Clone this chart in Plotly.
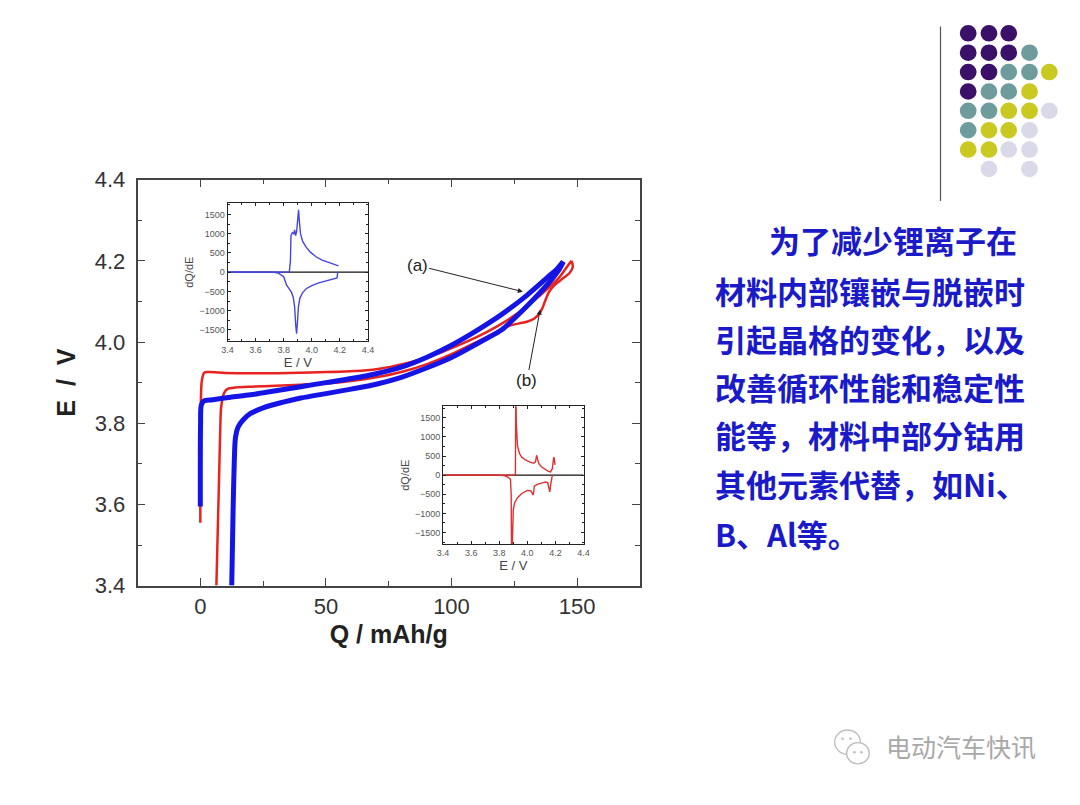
import plotly.graph_objects as go

# ---- main chart data: Q (mAh/g) vs E (V) ----
red_chg_q = [0, 0, 0.2, 0.6, 1.5, 3, 10, 20, 35, 50, 65, 72, 80, 88, 95, 102, 110, 118, 125, 132, 138, 143, 146.5, 147.8]
red_chg_e = [3.555, 3.70, 3.85, 3.905, 3.924, 3.926, 3.924, 3.923, 3.924, 3.926, 3.930, 3.935, 3.945, 3.958, 3.972, 3.99, 4.012, 4.038, 4.065, 4.098, 4.13, 4.16, 4.19, 4.2]

red_dis_q = [147.8, 148.3, 147, 144, 141, 139, 137.5, 136.3, 135, 133, 130, 127, 123, 118, 110, 100, 90, 80, 70, 60, 50, 40, 30, 20, 14, 11, 9.5, 8.3, 8.0, 7.6, 7.2, 6.8, 6.4]
red_dis_e = [4.20, 4.185, 4.17, 4.155, 4.14, 4.125, 4.105, 4.085, 4.07, 4.058, 4.05, 4.046, 4.04, 4.025, 4.0, 3.97, 3.945, 3.926, 3.913, 3.904, 3.898, 3.895, 3.892, 3.89, 3.888, 3.885, 3.875, 3.84, 3.80, 3.70, 3.60, 3.50, 3.40]

blue_chg_q = [0, 0, 0.1, 0.4, 1.5, 5, 12, 20, 30, 40, 50, 60, 70, 80, 90, 100, 110, 120, 130, 138, 142, 144.5]
blue_chg_e = [3.595, 3.70, 3.80, 3.845, 3.855, 3.858, 3.864, 3.870, 3.880, 3.890, 3.900, 3.910, 3.922, 3.938, 3.962, 3.992, 4.028, 4.068, 4.115, 4.158, 4.18, 4.198]

blue_dis_q = [144.5, 143, 140, 135, 130, 125, 120, 115, 110, 100, 90, 80, 70, 60, 50, 40, 33, 25, 20, 17, 15, 14, 13.5, 13.1, 12.8, 12.5]
blue_dis_e = [4.198, 4.18, 4.155, 4.12, 4.088, 4.058, 4.03, 4.012, 3.995, 3.962, 3.936, 3.913, 3.896, 3.884, 3.873, 3.862, 3.852, 3.838, 3.824, 3.808, 3.79, 3.765, 3.70, 3.60, 3.50, 3.40]

# ---- inset (blue) dQ/dE vs E ----
ib_chg_e = [3.40, 3.84, 3.848, 3.852, 3.862, 3.872, 3.878, 3.885, 3.892, 3.9, 3.906, 3.912, 3.92, 3.935, 3.96, 3.99, 4.03, 4.07, 4.12, 4.16, 4.19]
ib_chg_v = [0, 0, 300, 950, 1030, 1000, 1100, 950, 1050, 1350, 1620, 1300, 1000, 800, 650, 520, 400, 320, 250, 200, 165]
ib_dis_e = [3.40, 3.72, 3.76, 3.80, 3.82, 3.84, 3.855, 3.868, 3.878, 3.886, 3.892, 3.898, 3.905, 3.915, 3.935, 3.96, 4.0, 4.05, 4.1, 4.15, 4.18, 4.185]
ib_dis_v = [0, 0, -20, -120, -330, -450, -520, -650, -900, -1400, -1600, -1300, -900, -680, -530, -430, -350, -280, -230, -180, -150, 0]

# ---- inset (red) dQ/dE vs E ----
ir_chg_e = [3.40, 3.91, 3.915, 3.918, 3.921, 3.93, 3.945, 3.96, 3.99, 4.02, 4.045, 4.058, 4.066, 4.072, 4.082, 4.1, 4.125, 4.15, 4.165, 4.178, 4.186, 4.19, 4.197]
ir_chg_v = [0, 0, 20, 2500, 1400, 760, 560, 470, 390, 340, 310, 350, 520, 430, 300, 220, 150, 100, 85, 170, 420, 470, 270]
ir_dis_e = [3.40, 3.80, 3.84, 3.865, 3.88, 3.885, 3.888, 3.895, 3.90, 3.91, 3.93, 3.96, 4.0, 4.025, 4.035, 4.042, 4.05, 4.07, 4.1, 4.13, 4.145, 4.155, 4.16, 4.166, 4.172, 4.178]
ir_dis_v = [0, 0, -20, -60, -110, -500, -2500, -1500, -900, -720, -590, -480, -400, -410, -460, -520, -290, -240, -210, -180, -200, -330, -440, -260, -100, 0]

inset_yticks = [-1500, -1000, -500, 0, 500, 1000, 1500]

text_lines = [
    "为了减少锂离子在",
    "材料内部镶嵌与脱嵌时",
    "引起晶格的变化，以及",
    "改善循环性能和稳定性",
    "能等，材料中部分钴用",
    "其他元素代替，如Ni、",
    "B、Al等。",
]

W, H = 1080, 805
RED = "#E8221E"
BLUE = "#1414E6"


def px(x):
    return x / W


def py(y):
    return 1 - y / H


fig = go.Figure()

# main curves
for q, e in [(red_chg_q, red_chg_e), (red_dis_q, red_dis_e)]:
    fig.add_trace(go.Scatter(x=q, y=e, mode="lines", line=dict(color=RED, width=2.5, shape="spline", smoothing=0.85),
                             xaxis="x", yaxis="y", showlegend=False))
for q, e in [(blue_chg_q, blue_chg_e), (blue_dis_q, blue_dis_e)]:
    fig.add_trace(go.Scatter(x=q, y=e, mode="lines", line=dict(color=BLUE, width=5, shape="spline", smoothing=0.85),
                             xaxis="x", yaxis="y", showlegend=False))

# inset 1 (blue)
fig.add_trace(go.Scatter(x=[3.4, 4.4], y=[0, 0], mode="lines", line=dict(color="#111", width=1.3),
                         xaxis="x2", yaxis="y2", showlegend=False))
for e, v in [(ib_chg_e, ib_chg_v), (ib_dis_e, ib_dis_v)]:
    fig.add_trace(go.Scatter(x=e, y=v, mode="lines", line=dict(color="#4545E0", width=1.4),
                             xaxis="x2", yaxis="y2", showlegend=False))

# inset 2 (red)
fig.add_trace(go.Scatter(x=[3.4, 4.4], y=[0, 0], mode="lines", line=dict(color="#111", width=1.3),
                         xaxis="x3", yaxis="y3", showlegend=False))
for e, v in [(ir_chg_e, ir_chg_v), (ir_dis_e, ir_dis_v)]:
    fig.add_trace(go.Scatter(x=e, y=v, mode="lines", line=dict(color="#E03030", width=1.4),
                             xaxis="x3", yaxis="y3", showlegend=False))

main_font = dict(family="Liberation Sans, Arial", size=22, color="#333")
title_font = dict(family="Liberation Sans, Arial", size=25, color="#222")
small_font = dict(family="Liberation Sans, Arial", size=9, color="#555")
inset_title = dict(family="Liberation Sans, Arial", size=13, color="#444")

main_axis = dict(showline=True, linecolor="#444", linewidth=1.5, mirror="allticks", ticks="inside", ticklen=8,
                 tickcolor="#444", showgrid=False, zeroline=False, tickfont=main_font)
inset_axis = dict(showline=True, linecolor="#222", linewidth=1, mirror="allticks", ticks="inside", ticklen=3,
                  tickcolor="#222", showgrid=False, zeroline=False, tickfont=small_font)

NB = "\u00a0"
fig.update_layout(
    width=W, height=H,
    margin=dict(l=0, r=0, t=0, b=0),
    paper_bgcolor="white", plot_bgcolor="white",
    xaxis=dict(main_axis, domain=[px(133), px(641)], range=[-25, 175], dtick=50, tick0=0,
               minor=dict(ticks="inside", ticklen=5, dtick=25, tickcolor="#444"),
               title=dict(text="<b>Q" + NB + "/" + NB + "mAh/g</b>", font=title_font, standoff=8), anchor="y"),
    yaxis=dict(main_axis, domain=[py(592), py(173)], range=[3.4, 4.4], dtick=0.2, tickformat=".1f",
               minor=dict(ticks="inside", ticklen=5, dtick=0.1, tickcolor="#444"),
               title=dict(text="<b>E" + NB * 2 + "/" + NB * 2 + "V</b>", font=title_font, standoff=12),
               anchor="x", ticklabelstandoff=6),
    xaxis2=dict(inset_axis, domain=[px(224), px(366)], range=[3.4, 4.4], dtick=0.2, tickformat=".1f",
                minor=dict(ticks="inside", ticklen=2, dtick=0.1, tickcolor="#222"),
                title=dict(text="E / V", font=inset_title, standoff=0), anchor="y2"),
    yaxis2=dict(inset_axis, domain=[py(340), py(197)], range=[-1800, 1800], tickvals=inset_yticks,
                minor=dict(ticks="inside", ticklen=2, dtick=250, tickcolor="#222"),
                title=dict(text="dQ/dE", font=dict(inset_title, size=11), standoff=3), anchor="x2"),
    xaxis3=dict(inset_axis, domain=[px(442), px(584)], range=[3.4, 4.4], dtick=0.2, tickformat=".1f",
                minor=dict(ticks="inside", ticklen=2, dtick=0.1, tickcolor="#222"),
                title=dict(text="E / V", font=inset_title, standoff=0), anchor="y3"),
    yaxis3=dict(inset_axis, domain=[py(549), py(407)], range=[-1800, 1800], tickvals=inset_yticks,
                minor=dict(ticks="inside", ticklen=2, dtick=250, tickcolor="#222"),
                title=dict(text="dQ/dE", font=dict(inset_title, size=11), standoff=3), anchor="x3"),
)

# (a) / (b) labels with arrows
ann_font = dict(family="Liberation Sans, Arial", size=17, color="#222")
fig.add_annotation(x=128.4, y=4.124, ax=86.3, ay=4.189, axref="x", ayref="y", xref="x", yref="y",
                   text="(a)", showarrow=True, arrowhead=2, arrowsize=1, arrowwidth=1, arrowcolor="#222",
                   font=ann_font)
fig.add_annotation(x=135.3, y=4.08, ax=130, ay=3.904, axref="x", ayref="y", xref="x", yref="y",
                   text="(b)", showarrow=True, arrowhead=2, arrowsize=1, arrowwidth=1, arrowcolor="#222",
                   font=ann_font)

# right-hand Chinese text
line_y = [235, 287, 337, 387, 436, 487, 538]
line_x = [770, 715, 715, 715, 715, 715, 715]
for txt, lx, ly in zip(text_lines, line_x, line_y):
    fig.add_annotation(x=px(lx), y=py(ly), xref="paper", yref="paper", xanchor="left", yanchor="middle",
                       text="<b>" + txt + "</b>", showarrow=False,
                       font=dict(family="Noto Sans CJK SC", size=31, color="#1A1AC8"))

# decorative dot grid (top right)
P, T, Y, L = "#3A1068", "#6E9C9C", "#C9C922", "#D9D9EA"
dot_rows = [
    [P, P, P, None, None],
    [P, P, P, T, None],
    [P, P, T, T, Y],
    [P, T, T, Y, None],
    [T, T, Y, Y, L],
    [T, Y, Y, L, None],
    [Y, Y, L, L, None],
    [None, L, None, L, None],
]
col_x = [973, 994, 1014, 1035, 1055]
row_y = [22, 42, 62, 82, 102, 122, 142, 162]
r = 8.5
for ry, row in zip(row_y, dot_rows):
    for cx, c in zip(col_x, row):
        if c is None:
            continue
        fig.add_shape(type="circle", xref="paper", yref="paper",
                      x0=px(cx - r), x1=px(cx + r), y0=py(ry + r), y1=py(ry - r),
                      fillcolor=c, line=dict(width=0))
fig.add_shape(type="line", xref="paper", yref="paper", x0=px(945), x1=px(945), y0=py(15), y1=py(195),
              line=dict(color="#555", width=1.2))

# watermark
fig.add_shape(type="circle", xref="paper", yref="paper", x0=px(838), x1=px(864), y0=py(766), y1=py(741),
              line=dict(color="#BDBDBD", width=1.3), fillcolor="white")
fig.add_shape(type="circle", xref="paper", yref="paper", x0=px(850), x1=px(873), y0=py(776), y1=py(754),
              line=dict(color="#BDBDBD", width=1.3), fillcolor="white")
for cx, cy in [(846, 750), (854, 750), (858, 764), (865, 764)]:
    fig.add_shape(type="circle", xref="paper", yref="paper", x0=px(cx - 1.3), x1=px(cx + 1.3),
                  y0=py(cy + 1.3), y1=py(cy - 1.3), fillcolor="#BDBDBD", line=dict(width=0))
fig.add_annotation(x=px(888), y=py(758), xref="paper", yref="paper", xanchor="left", yanchor="middle",
                   text="电动汽车快讯", showarrow=False,
                   font=dict(family="Noto Sans CJK SC", size=25, color="#A8A8A8"))

fig.write_html("out.html", config={"displayModeBar": False},
               post_script="document.body.style.margin='0';document.body.style.overflow='hidden';")
